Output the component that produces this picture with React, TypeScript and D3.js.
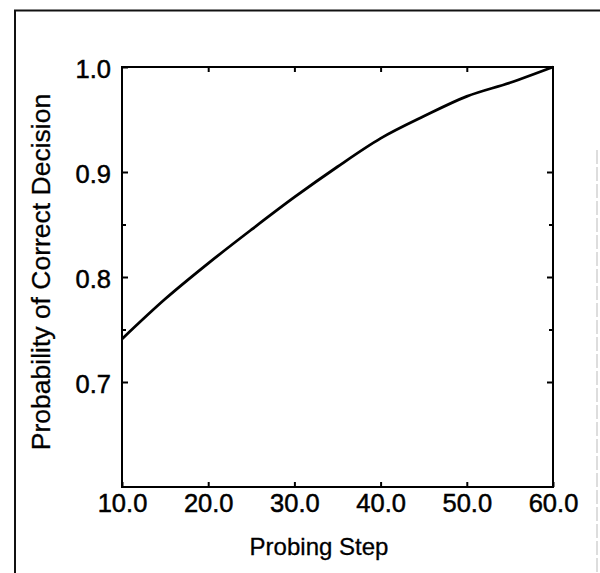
import React, { useEffect, useRef } from 'react';
import * as d3 from 'd3';

// Probing step vs. probability of correct decision
const probingSteps = [10, 15, 20, 25, 30, 35, 40, 45, 50, 55, 60];
const probCorrect = [0.741, 0.779, 0.813, 0.845, 0.876, 0.905, 0.932, 0.953, 0.972, 0.985, 1.0];
const xTickValues = [10, 20, 30, 40, 50, 60];
const yTickValues = [0.7, 0.8, 0.9, 1.0];
const yMinorTicks = [0.75, 0.85];

const FONT = '"Liberation Sans", Arial, Helvetica, sans-serif';

const App = () => {
    const svgRef = useRef<SVGSVGElement>(null);

    useEffect(() => {
        const root = d3.select(svgRef.current);
        root.selectAll('*').remove();

        const margin = { top: 67, right: 47, bottom: 86, left: 122 };
        const width = 600 - margin.left - margin.right;
        const height = 573 - margin.top - margin.bottom;

        // page frame (scanned figure border)
        root.append('line')
            .attr('x1', 14).attr('x2', 600).attr('y1', 10.5).attr('y2', 10.5)
            .attr('stroke', '#111').attr('stroke-width', 2);
        root.append('line')
            .attr('x1', 15).attr('x2', 15).attr('y1', 10).attr('y2', 573)
            .attr('stroke', '#111').attr('stroke-width', 2);
        root.append('line')
            .attr('x1', 597).attr('x2', 597).attr('y1', 150).attr('y2', 573)
            .attr('stroke', '#bbb').attr('stroke-width', 1)
            .attr('stroke-dasharray', '14 3');

        const svg = root.append('g')
            .attr('transform', `translate(${margin.left},${margin.top})`);

        const xScale = d3.scaleLinear().domain([10, 60]).range([0, width]);
        const yScale = d3.scaleLinear().domain([0.6, 1.0]).range([height, 0]);

        const data = probingSteps.map((s, i) => ({ step: s, p: probCorrect[i] }));

        // inward ticks on all four sides
        const bottom = svg.append('g')
            .attr('transform', `translate(0,${height})`)
            .call(d3.axisBottom(xScale).tickValues(xTickValues).tickSize(-5).tickPadding(7)
                .tickFormat(d3.format('.1f')));
        bottom.selectAll('text')
            .attr('font-size', 25.5)
            .attr('font-family', FONT)
            .attr('fill', '#000')
            .attr('stroke', '#000')
            .attr('stroke-width', 0.5);

        svg.append('g')
            .call(d3.axisTop(xScale).tickValues(xTickValues.slice(1, -1)).tickSize(-5).tickFormat(() => ''));

        const left = svg.append('g')
            .call(d3.axisLeft(yScale).tickValues(yTickValues).tickSize(-6).tickPadding(11)
                .tickFormat(d3.format('.1f')));
        left.selectAll('text')
            .attr('font-size', 25.5)
            .attr('font-family', FONT)
            .attr('fill', '#000')
            .attr('stroke', '#000')
            .attr('stroke-width', 0.5)
            .attr('dy', '0.42em');

        svg.append('g')
            .call(d3.axisLeft(yScale).tickValues(yMinorTicks).tickSize(-4).tickFormat(() => ''));

        svg.append('g')
            .attr('transform', `translate(${width},0)`)
            .call(d3.axisRight(yScale).tickValues(yTickValues.slice(0, -1)).tickSize(-6).tickFormat(() => ''));
        svg.append('g')
            .attr('transform', `translate(${width},0)`)
            .call(d3.axisRight(yScale).tickValues(yMinorTicks).tickSize(-4).tickFormat(() => ''));

        svg.selectAll('.domain').remove();
        svg.selectAll('.tick line').attr('stroke', '#000').attr('stroke-width', 2);

        // plot box
        svg.append('rect')
            .attr('x', 0).attr('y', 0)
            .attr('width', width).attr('height', height)
            .attr('fill', 'none')
            .attr('stroke', '#000')
            .attr('stroke-width', 2);

        // curve
        const line = d3.line<{ step: number; p: number }>()
            .x(d => xScale(d.step))
            .y(d => yScale(d.p))
            .curve(d3.curveMonotoneX);
        svg.append('path')
            .datum(data)
            .attr('d', line)
            .attr('fill', 'none')
            .attr('stroke', '#000')
            .attr('stroke-width', 2.8)
            .attr('stroke-linejoin', 'round');

        // axis titles
        root.append('text')
            .text('Probing Step')
            .attr('x', 319)
            .attr('y', 555)
            .attr('text-anchor', 'middle')
            .attr('font-size', 24)
            .attr('font-family', FONT)
            .attr('fill', '#000')
            .attr('stroke', '#000')
            .attr('stroke-width', 0.3);

        root.append('text')
            .text('Probability of Correct Decision')
            .attr('transform', 'translate(50,272) rotate(-90)')
            .attr('text-anchor', 'middle')
            .attr('font-size', 26.5)
            .attr('font-family', FONT)
            .attr('fill', '#000')
            .attr('stroke', '#000')
            .attr('stroke-width', 0.3);
    }, []);

    return (
        <svg
            ref={svgRef}
            width={600}
            height={573}
            style={{ position: 'absolute', left: 0, top: 0, background: '#fff' }}
        />
    );
};

export default App;
